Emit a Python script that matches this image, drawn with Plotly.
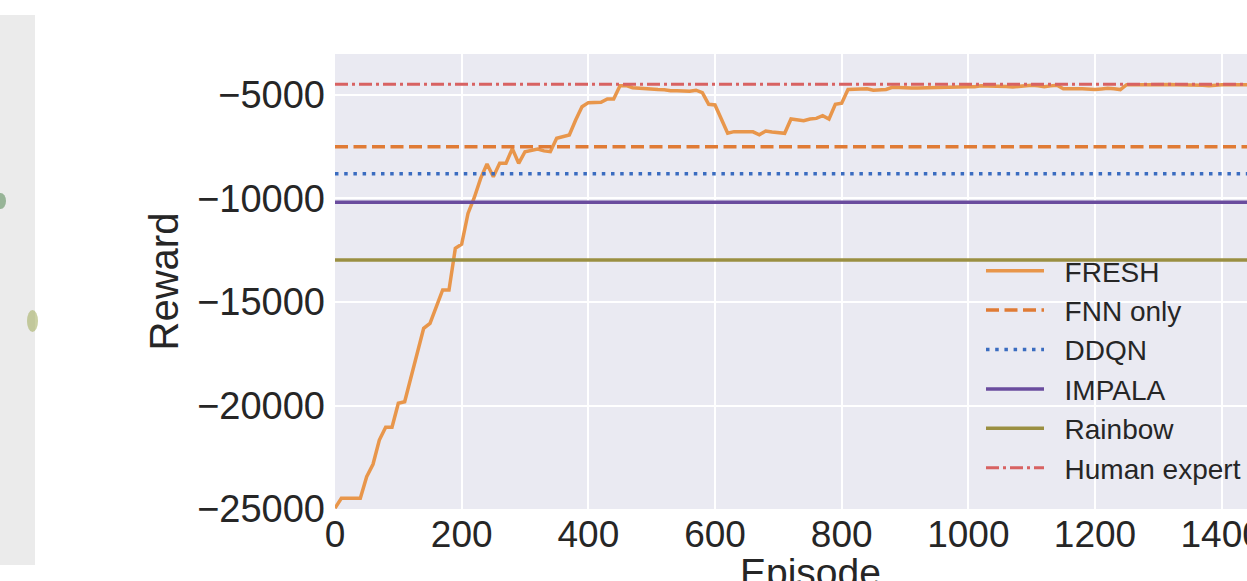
import plotly.graph_objects as go

# ---------------- data ----------------
episodes = list(range(0, 1510, 10))
fresh_reward = [
    -24960, -24480, -24480, -24480, -24480, -23440, -22840, -21670, -21050, -21050,
    -19890, -19820, -18610, -17560, -16270, -16030, -15230, -14420, -14420, -12410,
    -12210, -10720, -9950, -9030, -8330, -8950, -8300, -8300, -7590, -8300,
    -7740, -7690, -7610, -7700, -7740, -7090, -7020, -6930, -6210, -5570,
    -5370, -5360, -5350, -5190, -5190, -4550, -4550, -4650, -4680, -4710,
    -4720, -4740, -4745, -4790, -4790, -4790, -4820, -4770, -4890, -5450,
    -5480, -6160, -6850, -6770, -6760, -6770, -6780, -6920, -6740, -6790,
    -6820, -6850, -6160, -6220, -6240, -6160, -6130, -6000, -6160, -5450,
    -5400, -4730, -4720, -4700, -4700, -4770, -4750, -4730, -4630, -4650,
    -4650, -4660, -4660, -4650, -4630, -4620, -4600, -4600, -4600, -4600,
    -4600, -4600, -4550, -4560, -4560, -4570, -4590, -4610, -4580, -4550,
    -4530, -4560, -4600, -4560, -4530, -4700, -4720, -4700, -4700, -4720,
    -4740, -4710, -4680, -4700, -4740, -4500, -4480, -4500, -4500, -4490,
    -4480, -4490, -4490, -4500, -4500, -4510, -4520, -4530, -4550, -4520,
    -4500, -4510, -4520, -4520, -4517, -4510, -4510, -4500, -4500, -4500,
    -4500,
]
baseline_names = ["FNN only", "DDQN", "IMPALA", "Rainbow", "Human expert"]
baseline_values = [-7500, -8800, -10180, -12970, -4480]
episode_span = [0, 1500]

x_ticks = [0, 200, 400, 600, 800, 1000, 1200, 1400]
y_ticks = [-25000, -20000, -15000, -10000, -5000]
y_tick_labels = ["\u221225000", "\u221220000", "\u221215000", "\u221210000", "\u22125000"]

# ---------------- styles ----------------
fresh_color = "#e8964b"
baseline_styles = {
    "FNN only": dict(color="#e07b35", width=3.5, dash="13px,5.5px"),
    "DDQN": dict(color="#3a6cc0", width=3.5, dash="3.5px,5.7px"),
    "IMPALA": dict(color="#6a4c9e", width=3.5, dash="solid"),
    "Rainbow": dict(color="#9a8f42", width=3.5, dash="solid"),
    "Human expert": dict(color="#d86262", width=3, dash="13px,4px,3px,4px"),
}

FONT = "Liberation Sans, Arial, sans-serif"
TXT = "#262626"
LEGEND_PAD = "  "

fig = go.Figure()
fig.add_trace(go.Scatter(
    x=episodes, y=fresh_reward, mode="lines", name=LEGEND_PAD + "FRESH",
    legendgroup="g0",
    line=dict(color=fresh_color, width=3.5),
))
for i, (n, v) in enumerate(zip(baseline_names, baseline_values)):
    fig.add_trace(go.Scatter(
        x=episode_span, y=[v, v], mode="lines", name=LEGEND_PAD + n,
        legendgroup=f"g{i+1}",
        line=baseline_styles[n],
    ))

W, H = 1247, 581
L, T, B = 335, 54, 72
plot_w = W - L
plot_h = H - T - B


def px_x(p):
    return (p - L) / plot_w


def px_y(p):
    return (H - B - p) / plot_h


shapes = [
    # fragment of a neighbouring panel at the left edge
    dict(type="rect", xref="paper", yref="paper",
         x0=px_x(0), x1=px_x(35), y0=px_y(565), y1=px_y(15),
         fillcolor="#ebebeb", line=dict(width=0), layer="below"),
    dict(type="circle", xref="paper", yref="paper",
         x0=px_x(-5), x1=px_x(6), y0=px_y(209), y1=px_y(193),
         fillcolor="#5f8f5f", line=dict(width=0), opacity=0.6),
    dict(type="circle", xref="paper", yref="paper",
         x0=px_x(27), x1=px_x(38), y0=px_y(332), y1=px_y(310),
         fillcolor="#a6b066", line=dict(width=0), opacity=0.6),
]

fig.update_layout(
    width=W, height=H,
    margin=dict(l=L, r=0, t=T, b=B, pad=0, autoexpand=False),
    paper_bgcolor="white",
    plot_bgcolor="#EAEAF2",
    font=dict(family=FONT, color=TXT, size=35),
    showlegend=True,
    legend=dict(
        x=px_x(981), y=px_y(246), xanchor="left", yanchor="top",
        bgcolor="rgba(0,0,0,0)", borderwidth=0,
        font=dict(family=FONT, size=28, color=TXT),
        tracegroupgap=0, itemwidth=58,
    ),
    xaxis=dict(
        range=[0, 1440], tickvals=x_ticks,
        showgrid=True, gridcolor="white", gridwidth=2,
        zeroline=False, showline=False, ticks="",
        tickfont=dict(size=37, family=FONT, color=TXT),
        ticklabelstandoff=0, ticklabeloverflow="allow",
    ),
    yaxis=dict(
        range=[-25000, -3020], tickvals=y_ticks, ticktext=y_tick_labels,
        showgrid=True, gridcolor="white", gridwidth=2,
        zeroline=False, showline=False, ticks="",
        tickfont=dict(size=38, family=FONT, color=TXT),
        ticklabelstandoff=9,
        title=dict(text="Reward", font=dict(size=40, family=FONT, color=TXT), standoff=6),
    ),
    shapes=shapes,
    annotations=[dict(
        text="Episode", xref="x", yref="paper", x=750, y=px_y(549),
        xanchor="center", yanchor="top", showarrow=False,
        font=dict(size=39, family=FONT, color=TXT),
    )],
)

fig.write_html("out.html")
